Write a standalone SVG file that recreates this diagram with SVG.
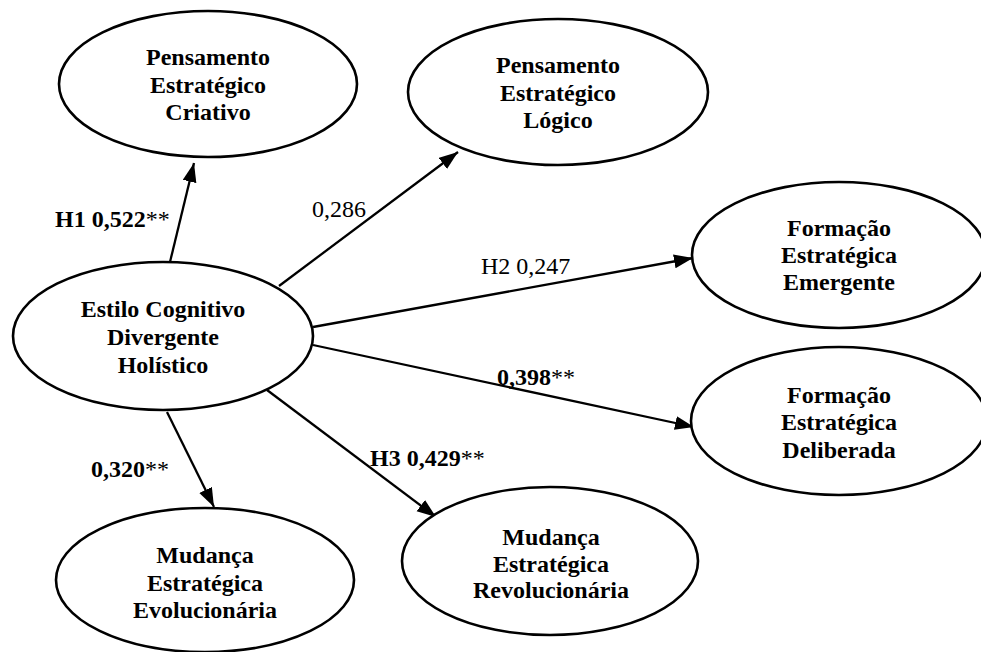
<svg xmlns="http://www.w3.org/2000/svg" width="981" height="652" viewBox="0 0 981 652">
<style>
  .node ellipse { fill: #ffffff; stroke: #000000; stroke-width: 2.6; }
  .node text { font-family: "Liberation Serif", "Times New Roman", serif; font-size: 24px; font-weight: bold; text-anchor: middle; fill: #000000; }
  .conn line { stroke: #000000; stroke-width: 2.3; marker-end: url(#arrow); }
  .lbl { font-family: "Liberation Serif", "Times New Roman", serif; font-size: 24px; fill: #000000; }
  .b { font-weight: bold; }
</style>
<defs>
  <marker id="arrow" markerUnits="userSpaceOnUse" markerWidth="20" markerHeight="16" refX="19" refY="7" orient="auto">
    <path d="M0,0 L19,7 L0,14 z" fill="#000000"/>
  </marker>
</defs>
<rect x="0" y="0" width="981" height="652" fill="#ffffff"/>

<g id="connectors" class="conn">
  <line x1="170" y1="262" x2="194" y2="163"/>
  <line x1="279" y1="286" x2="458" y2="152"/>
  <line x1="313" y1="327" x2="693" y2="258"/>
  <line x1="313" y1="345" x2="694" y2="427"/>
  <line x1="167" y1="412" x2="214" y2="507"/>
  <line x1="267" y1="390" x2="436" y2="517"/>
</g>

<g id="labels">
  <text class="lbl" x="55" y="227"><tspan class="b">H1 0,522</tspan>**</text>
  <text class="lbl" x="312" y="217">0,286</text>
  <text class="lbl" x="481" y="274">H2 0,247</text>
  <text class="lbl" x="497" y="385"><tspan class="b">0,398</tspan>**</text>
  <text class="lbl" x="91" y="477"><tspan class="b">0,320</tspan>**</text>
  <text class="lbl" x="370" y="466"><tspan class="b">H3 0,429</tspan>**</text>
</g>

<g id="node-criativo" class="node">
  <ellipse cx="208" cy="84" rx="149" ry="73"/>
  <text x="208" y="65">Pensamento</text>
  <text x="208" y="93">Estratégico</text>
  <text x="208" y="120">Criativo</text>
</g>

<g id="node-logico" class="node">
  <ellipse cx="558" cy="92" rx="150" ry="73"/>
  <text x="558" y="73">Pensamento</text>
  <text x="558" y="101">Estratégico</text>
  <text x="558" y="128">Lógico</text>
</g>

<g id="node-estilo" class="node">
  <ellipse cx="163" cy="336" rx="150" ry="74"/>
  <text x="163" y="317">Estilo Cognitivo</text>
  <text x="163" y="345">Divergente</text>
  <text x="163" y="373">Holístico</text>
</g>

<g id="node-emergente" class="node">
  <ellipse cx="839" cy="255" rx="147" ry="73"/>
  <text x="839" y="236">Formação</text>
  <text x="839" y="263">Estratégica</text>
  <text x="839" y="290">Emergente</text>
</g>

<g id="node-deliberada" class="node">
  <ellipse cx="839" cy="421" rx="148" ry="74"/>
  <text x="839" y="403">Formação</text>
  <text x="839" y="430">Estratégica</text>
  <text x="839" y="458">Deliberada</text>
</g>

<g id="node-evolucionaria" class="node">
  <ellipse cx="205" cy="580" rx="149" ry="72"/>
  <text x="205" y="563">Mudança</text>
  <text x="205" y="591">Estratégica</text>
  <text x="205" y="618">Evolucionária</text>
</g>

<g id="node-revolucionaria" class="node">
  <ellipse cx="550" cy="561" rx="148" ry="74"/>
  <text x="551" y="545">Mudança</text>
  <text x="551" y="572">Estratégica</text>
  <text x="551" y="598">Revolucionária</text>
</g>
</svg>
